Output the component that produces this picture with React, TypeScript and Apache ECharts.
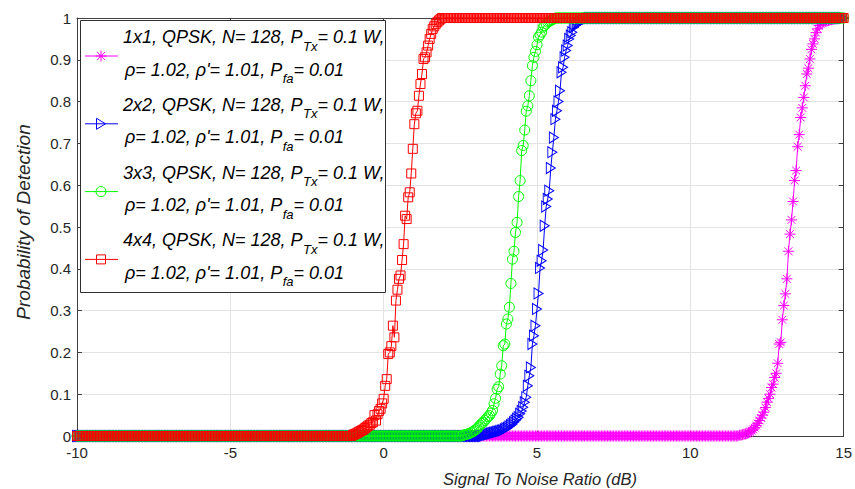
import React, { useEffect, useRef } from "react";
import * as echarts from "echarts";

// ---- sampling grid (SNR in dB) ----
const snrStart = -10;
const snrEnd = 15;
const snrStep = 0.05;
const floorValue = 0; // Pd read on the flat low part
const ceilValue = 1; // Pd read on the flat high part

const seriesNames = ["1x1", "2x2", "3x3", "4x4"];
const seriesColors = ["#ff00ff", "#0000ff", "#00ff00", "#ff0000"];

// rising parts, one value every 0.05 dB from the start
const magentaStart = 11.6;
const magentaRise = [
  0.002, 0.002, 0.003, 0.004, 0.005, 0.006, 0.008, 0.010, 0.013, 0.016,
  0.020, 0.025, 0.030, 0.037, 0.043, 0.050, 0.057, 0.068, 0.081, 0.090,
  0.100, 0.116, 0.124, 0.140, 0.150, 0.174, 0.220, 0.224, 0.278, 0.312,
  0.340, 0.376, 0.442, 0.483, 0.517, 0.561, 0.611, 0.635, 0.692, 0.721,
  0.762, 0.785, 0.810, 0.838, 0.866, 0.880, 0.902, 0.925, 0.938, 0.950,
  0.965, 0.974, 0.982, 0.986, 0.989, 0.991, 0.992, 0.993, 0.994, 0.995,
  0.996, 0.997, 0.998, 0.998, 0.999, 0.999,
];
const blueStart = 3.3;
const blueRise = [
  0.002, 0.003, 0.004, 0.005, 0.006, 0.007, 0.008, 0.009, 0.010, 0.011,
  0.012, 0.013, 0.014, 0.016, 0.018, 0.020, 0.023, 0.026, 0.029, 0.033,
  0.037, 0.041, 0.045, 0.053, 0.060, 0.069, 0.081, 0.093, 0.120, 0.144,
  0.164, 0.220, 0.240, 0.264, 0.304, 0.341, 0.402, 0.419, 0.445, 0.503,
  0.549, 0.567, 0.587, 0.641, 0.679, 0.714, 0.758, 0.778, 0.800, 0.826,
  0.870, 0.882, 0.906, 0.922, 0.934, 0.950, 0.958, 0.966, 0.978, 0.982,
  0.986, 0.988, 0.990, 0.992, 0.994, 0.996, 0.998, 0.999,
];
const greenStart = 2.6;
const greenRise = [
  0.002, 0.003, 0.004, 0.005, 0.006, 0.008, 0.010, 0.012, 0.015, 0.018,
  0.022, 0.026, 0.030, 0.033, 0.037, 0.041, 0.046, 0.049, 0.055, 0.061,
  0.077, 0.090, 0.112, 0.118, 0.148, 0.168, 0.216, 0.220, 0.268, 0.280,
  0.308, 0.365, 0.423, 0.442, 0.487, 0.511, 0.573, 0.611, 0.683, 0.695,
  0.732, 0.777, 0.790, 0.814, 0.850, 0.886, 0.906, 0.920, 0.936, 0.954,
  0.960, 0.966, 0.978, 0.982, 0.986, 0.990, 0.992, 0.994, 0.996, 0.998,
];
const redStart = -1.0;
const redRise = [
  0.003, 0.004, 0.006, 0.008, 0.010, 0.012, 0.014, 0.016, 0.019, 0.022,
  0.025, 0.027, 0.031, 0.033, 0.050, 0.037, 0.052, 0.060, 0.065, 0.078,
  0.089, 0.120, 0.136, 0.196, 0.200, 0.215, 0.264, 0.236, 0.324, 0.350,
  0.376, 0.384, 0.421, 0.459, 0.527, 0.519, 0.571, 0.583, 0.628, 0.687,
  0.746, 0.772, 0.778, 0.814, 0.842, 0.866, 0.902, 0.906, 0.918, 0.934,
  0.950, 0.962, 0.974, 0.980, 0.986, 0.990, 0.994, 0.997,
];

const riseStarts = [magentaStart, blueStart, greenStart, redStart];
const riseValues = [magentaRise, blueRise, greenRise, redRise];

const xMin = -10;
const xMax = 15;
const xInterval = 5;
const yMin = 0;
const yMax = 1;
const yInterval = 0.1;

const AXIS = "#404040";
const GRIDC = "#e3e3e3";
const FONT = "Liberation Sans, Arial, Helvetica, sans-serif";
const LEGEND_Z = 100;

function buildSeries(start: number, rise: number[]) {
  const pts: number[][] = [];
  const n = Math.round((snrEnd - snrStart) / snrStep);
  for (let i = 0; i <= n; i++) {
    const x = Math.round((snrStart + i * snrStep) * 100) / 100;
    const k = Math.round((x - start) / snrStep);
    const y = k < 0 ? floorValue : k >= rise.length ? ceilValue : rise[k];
    pts.push([x, y]);
  }
  return pts;
}

const asteriskPath =
  "path://M5 0L5 10M0 5L10 5M1.46 1.46L8.54 8.54M1.46 8.54L8.54 1.46";
const triRightPath = "path://M0 0L8 5L0 10Z";

const symbols: any[] = [asteriskPath, triRightPath, "circle", "rect"];
const symbolSizes: any[] = [11, [9, 11], 10, 9];

let measureCtx: CanvasRenderingContext2D | null = null;
function textWidth(text: string, size: number) {
  if (!measureCtx) {
    const c = document.createElement("canvas");
    measureCtx = c.getContext("2d");
  }
  if (!measureCtx) return text.length * size * 0.55;
  measureCtx.font = `italic ${size}px ${FONT}`;
  return measureCtx.measureText(text).width;
}

function legendMarker(i: number, cx: number, cy: number, color: string): any[] {
  const st = { stroke: color, fill: "none", lineWidth: 1 };
  const z = LEGEND_Z + 2;
  if (i === 0) {
    const r = 5.5;
    const d = 3.9;
    return [
      { type: "line", z, shape: { x1: cx, y1: cy - r, x2: cx, y2: cy + r }, style: st },
      { type: "line", z, shape: { x1: cx - r, y1: cy, x2: cx + r, y2: cy }, style: st },
      { type: "line", z, shape: { x1: cx - d, y1: cy - d, x2: cx + d, y2: cy + d }, style: st },
      { type: "line", z, shape: { x1: cx - d, y1: cy + d, x2: cx + d, y2: cy - d }, style: st },
    ];
  }
  if (i === 1) {
    return [
      {
        type: "polygon",
        z,
        shape: { points: [[cx - 4.5, cy - 5.5], [cx + 4.5, cy], [cx - 4.5, cy + 5.5]] },
        style: st,
      },
    ];
  }
  if (i === 2) {
    return [{ type: "circle", z, shape: { cx, cy, r: 5 }, style: st }];
  }
  return [{ type: "rect", z, shape: { x: cx - 4.5, y: cy - 4.5, width: 9, height: 9 }, style: st }];
}

function richLine(x: number, y: number, parts: [string, string, string]): any[] {
  const main = 18;
  const sub = 13;
  const w0 = textWidth(parts[0], main);
  const w1 = textWidth(parts[1], sub);
  const z = LEGEND_Z + 2;
  const base = { fill: "#000", fontFamily: FONT, fontStyle: "italic", verticalAlign: "middle", align: "left" };
  return [
    { type: "text", z, x, y, style: { ...base, text: parts[0], fontSize: main } },
    { type: "text", z, x: x + w0 + 0.5, y: y + 9, style: { ...base, text: parts[1], fontSize: sub } },
    { type: "text", z, x: x + w0 + w1 + 0.5, y, style: { ...base, text: parts[2], fontSize: main } },
  ];
}

function buildLegend(): any[] {
  const els: any[] = [
    {
      type: "rect",
      z: LEGEND_Z,
      shape: { x: 80.5, y: 20.5, width: 305, height: 272 },
      style: { fill: "#ffffff", stroke: "#303030", lineWidth: 1 },
    },
  ];
  seriesNames.forEach((name, i) => {
    const y1 = 37 + 67.8 * i;
    const y2 = y1 + 32.5;
    const ym = y1 + 19;
    const color = seriesColors[i];
    els.push({
      type: "line",
      z: LEGEND_Z + 1,
      shape: { x1: 85, y1: ym, x2: 118, y2: ym },
      style: { stroke: color, lineWidth: 1 },
    });
    els.push(...legendMarker(i, 101, ym, color));
    els.push(...richLine(123, y1, [`${name}, QPSK, N= 128, P`, "Tx", "= 0.1 W,"]));
    els.push(...richLine(125, y2, ["\u03c1= 1.02, \u03c1'= 1.01, P", "fa", "= 0.01"]));
  });
  return els;
}

export default function App() {
  const ref = useRef<HTMLDivElement>(null);
  useEffect(() => {
    if (!ref.current) return;
    document.body.style.margin = "0";
    document.body.style.overflow = "hidden";
    const chart = echarts.init(ref.current, undefined, { renderer: "svg" });
    const series = seriesNames.map((name, i) => ({
      name,
      type: "line",
      data: buildSeries(riseStarts[i], riseValues[i]),
      xAxisIndex: 0,
      yAxisIndex: 0,
      symbol: symbols[i],
      symbolSize: symbolSizes[i],
      showSymbol: true,
      showAllSymbol: true,
      clip: false,
      lineStyle: { color: seriesColors[i], width: 1 },
      itemStyle: { color: "rgba(0,0,0,0)", borderColor: seriesColors[i], borderWidth: 1 },
      emphasis: { disabled: true },
      z: 2 + i,
    }));
    const tickLabel = { color: "#262626", fontSize: 15, fontFamily: FONT };
    chart.setOption({
      animation: false,
      backgroundColor: "#ffffff",
      grid: { left: 77, right: 8, top: 18, bottom: 53, containLabel: false },
      xAxis: [
        {
          type: "value",
          min: xMin,
          max: xMax,
          interval: xInterval,
          position: "bottom",
          axisLine: { show: true, onZero: false, lineStyle: { color: AXIS, width: 1 } },
          axisTick: { show: true, inside: true, length: 5, lineStyle: { color: AXIS } },
          axisLabel: { ...tickLabel, margin: 9 },
          splitLine: { show: true, lineStyle: { color: GRIDC, width: 1 } },
        },
        {
          type: "value",
          min: xMin,
          max: xMax,
          interval: xInterval,
          position: "top",
          axisLine: { show: true, onZero: false, lineStyle: { color: AXIS, width: 1 } },
          axisTick: { show: true, inside: true, length: 5, lineStyle: { color: AXIS } },
          axisLabel: { show: false },
          splitLine: { show: false },
        },
      ],
      yAxis: [
        {
          type: "value",
          min: yMin,
          max: yMax,
          interval: yInterval,
          position: "left",
          axisLine: { show: true, onZero: false, lineStyle: { color: AXIS, width: 1 } },
          axisTick: { show: true, inside: true, length: 5, lineStyle: { color: AXIS } },
          axisLabel: {
            ...tickLabel,
            margin: 6,
            formatter: (v: number) => (v === 0 ? "0" : v === 1 ? "1" : v.toFixed(1)),
          },
          splitLine: { show: true, lineStyle: { color: GRIDC, width: 1 } },
        },
        {
          type: "value",
          min: yMin,
          max: yMax,
          interval: yInterval,
          position: "right",
          axisLine: { show: true, onZero: false, lineStyle: { color: AXIS, width: 1 } },
          axisTick: { show: true, inside: true, length: 5, lineStyle: { color: AXIS } },
          axisLabel: { show: false },
          splitLine: { show: false },
        },
      ],
      series,
      graphic: [
        ...buildLegend(),
        {
          type: "text",
          x: 540,
          y: 479,
          style: {
            text: "Signal To Noise Ratio (dB)",
            fontFamily: FONT,
            fontStyle: "italic",
            fontSize: 16.5,
            fill: "#262626",
            align: "center",
            verticalAlign: "middle",
          },
        },
        {
          type: "text",
          x: 23,
          y: 222,
          rotation: Math.PI / 2,
          style: {
            text: "Probability of Detection",
            fontFamily: FONT,
            fontStyle: "italic",
            fontSize: 19,
            fill: "#262626",
            align: "center",
            verticalAlign: "middle",
          },
        },
      ],
    });
    return () => chart.dispose();
  }, []);
  return <div ref={ref} style={{ width: 855, height: 489 }} />;
}
